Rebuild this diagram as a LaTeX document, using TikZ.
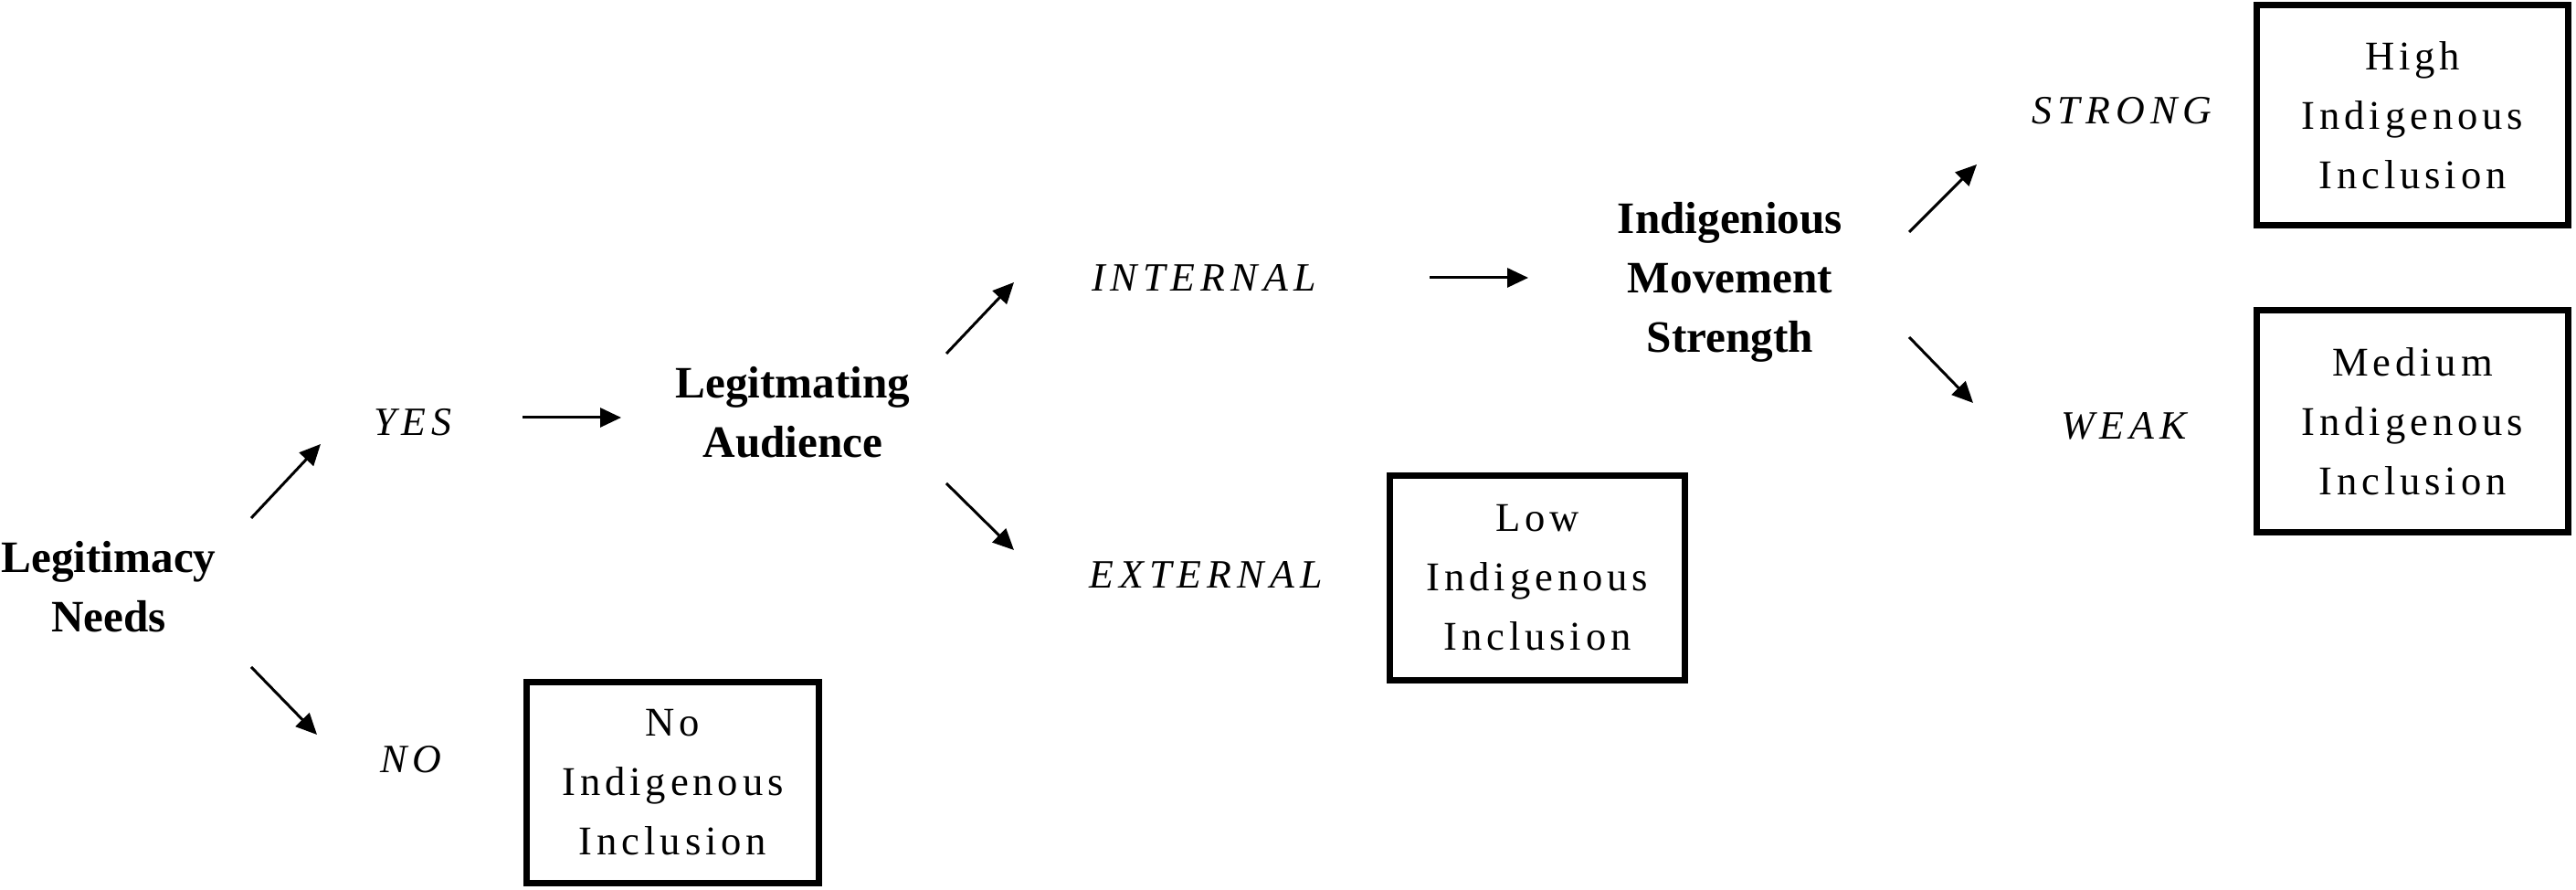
\documentclass[tikz,border=0pt]{standalone}
\usepackage{fontspec}
\setmainfont{Liberation Serif}
\newfontfamily\spaced[LetterSpace=14]{Liberation Serif}
\newfontfamily\boxed[LetterSpace=11]{Liberation Serif}
\usetikzlibrary{arrows.meta}
\tikzset{var/.style={font=\fontsize{14}{18.5}\selectfont\bfseries, align=center}}
\tikzset{val/.style={font=\fontsize{12.5}{15}\selectfont\spaced\itshape}}
\tikzset{res/.style={draw, line width=2pt, inner sep=0pt, align=center, font=\fontsize{12.7}{18.5}\selectfont\boxed}}
\tikzset{arr/.style={-{Triangle[length=0.23cm,width=0.21cm]}, line width=0.85pt}}

\begin{document}
\begin{tikzpicture}
          \useasboundingbox (0,0) rectangle (28.20,9.74);
          % variables
          \node[var] (needs) at (1.19,3.32) {Legitimacy\\Needs};
          \node[var] (audience) at (8.68,5.23) {Legitmating\\Audience};
          \node[var] (strength) at (18.94,6.65) {Indigenious\\Movement\\Strength};
          % values
          \node[val] (yes) at (4.52,5.12) {YES};
          \node[val] (no) at (4.50,1.43) {NO};
          \node[val] (internal) at (13.18,6.70) {INTERNAL};
          \node[val] (external) at (13.20,3.45) {EXTERNAL};
          \node[val] (strong) at (23.23,8.53) {STRONG};
          \node[val] (weak) at (23.25,5.08) {WEAK};
          % outcomes
          \node[res, minimum width=3.20cm, minimum height=2.20cm] (none) at (7.365,1.175) {No\\Indigenous\\Inclusion};
          \node[res, minimum width=3.23cm, minimum height=2.24cm] (low) at (16.83,3.415) {Low\\Indigenous\\Inclusion};
          \node[res, minimum width=3.41cm, minimum height=2.41cm] (high) at (26.41,8.48) {High\\Indigenous\\Inclusion};
          \node[res, minimum width=3.41cm, minimum height=2.43cm] (medium) at (26.41,5.13) {Medium\\Indigenous\\Inclusion};
          % arrow ends
          \coordinate (needs-yes1) at (2.75,4.07);
          \coordinate (needs-yes2) at (3.51,4.88);
          \coordinate (needs-no1) at (2.75,2.44);
          \coordinate (needs-no2) at (3.47,1.70);
          \coordinate (yes-aud1) at (5.72,5.17);
          \coordinate (yes-aud2) at (6.80,5.17);
          \coordinate (aud-int1) at (10.36,5.87);
          \coordinate (aud-int2) at (11.10,6.65);
          \coordinate (aud-ext1) at (10.36,4.45);
          \coordinate (aud-ext2) at (11.10,3.72);
          \coordinate (int-str1) at (15.65,6.70);
          \coordinate (int-str2) at (16.73,6.70);
          \coordinate (str-strong1) at (20.90,7.20);
          \coordinate (str-strong2) at (21.64,7.94);
          \coordinate (str-weak1) at (20.90,6.05);
          \coordinate (str-weak2) at (21.60,5.33);
          \draw[arr] (needs-yes1) -- (needs-yes2);
          \draw[arr] (needs-no1) -- (needs-no2);
          \draw[arr] (yes-aud1) -- (yes-aud2);
          \draw[arr] (aud-int1) -- (aud-int2);
          \draw[arr] (aud-ext1) -- (aud-ext2);
          \draw[arr] (int-str1) -- (int-str2);
          \draw[arr] (str-strong1) -- (str-strong2);
          \draw[arr] (str-weak1) -- (str-weak2);
        \end{tikzpicture}
\end{document}
